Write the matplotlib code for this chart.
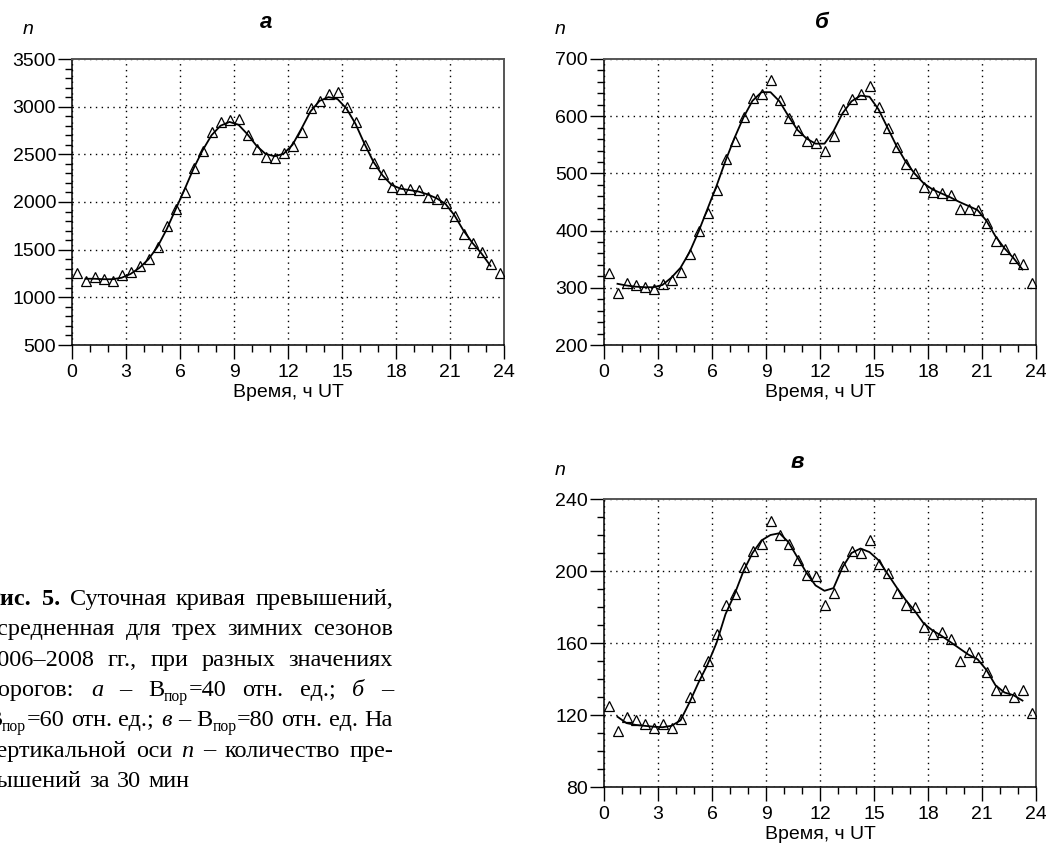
import numpy as np
import matplotlib
matplotlib.use("Agg")
import matplotlib.pyplot as plt
from matplotlib.ticker import MultipleLocator
from matplotlib.transforms import IdentityTransform

W, H = 1046, 846

# середины получасовых интервалов, ч UT
hours = [0.25, 0.75, 1.25, 1.75, 2.25, 2.75, 3.25, 3.75, 4.25, 4.75, 5.25, 5.75,
         6.25, 6.75, 7.25, 7.75, 8.25, 8.75, 9.25, 9.75, 10.25, 10.75, 11.25, 11.75,
         12.25, 12.75, 13.25, 13.75, 14.25, 14.75, 15.25, 15.75, 16.25, 16.75, 17.25, 17.75,
         18.25, 18.75, 19.25, 19.75, 20.25, 20.75, 21.25, 21.75, 22.25, 22.75, 23.25, 23.75]
fit_hours = hours[1:-1]

# а - Bпор=40
n_a = [1260, 1170, 1215, 1190, 1170, 1230, 1262, 1324, 1400, 1533, 1746, 1931,
       2105, 2360, 2534, 2736, 2844, 2865, 2875, 2708, 2551, 2475, 2460, 2517,
       2586, 2732, 2987, 3060, 3130, 3158, 2998, 2837, 2593, 2412, 2293, 2161,
       2140, 2133, 2130, 2057, 2028, 1986, 1854, 1669, 1568, 1471, 1352, 1254]
fit_a = [1195, 1195, 1190, 1190, 1205, 1245, 1310, 1400, 1530, 1710, 1920,
         2130, 2350, 2540, 2700, 2800, 2840, 2810, 2710, 2590, 2505, 2480, 2505,
         2600, 2770, 2950, 3060, 3100, 3080, 2980, 2820, 2610, 2420, 2280, 2180,
         2140, 2125, 2110, 2080, 2040, 1980, 1860, 1700, 1570, 1460, 1330]

# б - Bпор=60
n_b = [325, 291, 308, 305, 301, 298, 307, 314, 328, 359, 400, 430,
       471, 525, 556, 598, 632, 638, 663, 628, 597, 576, 556, 554,
       539, 565, 612, 630, 638, 653, 616, 580, 546, 516, 501, 477,
       467, 465, 463, 438, 438, 436, 414, 382, 367, 352, 342, 308]
fit_b = [307, 304, 302, 301, 301, 305, 318, 335, 362, 398, 438,
         478, 522, 562, 598, 627, 642, 642, 626, 600, 576, 561, 552,
         552, 574, 605, 626, 636, 634, 612, 580, 548, 521, 500, 483,
         472, 465, 458, 450, 443, 436, 417, 390, 369, 352, 332]

# в - Bпор=80
n_c = [125, 111, 119, 117, 115, 113, 115, 113, 118, 130, 142, 150,
       165, 181, 187, 202, 211, 215, 228, 220, 215, 206, 198, 197,
       181, 188, 203, 211, 210, 217, 204, 199, 188, 181, 180, 169,
       165, 166, 162, 150, 155, 152, 144, 134, 134, 130, 134, 121]
fit_c = [119, 115.5, 114.5, 114, 113.5, 113.2, 114, 117, 127, 138, 148,
         160, 176, 187, 200, 210, 217, 220, 221, 216, 207.5, 199, 192,
         189, 190.5, 202, 210, 212.5, 210.5, 206, 198.5, 191, 184, 178, 171,
         167, 164, 160.5, 157, 153.5, 151, 145, 136.5, 132.5, 131, 128]

panels = [
    # left, top, right, bottom (px), data, fit, ymin, ymax, major, minor, title, title x
    (72, 59, 504, 345, n_a, fit_a, 500, 3500, 500, 100, "а", 266),
    (604, 59, 1036, 345, n_b, fit_b, 200, 700, 100, 20, "б", 822),
    (604, 499, 1036, 787, n_c, fit_c, 80, 240, 40, 10, "в", 797),
]

plt.rcParams['font.family'] = ['Liberation Sans', 'DejaVu Sans']
fig = plt.figure(figsize=(W / 100, H / 100), dpi=100)

for l, t, r, b, pts, fit, y0, y1, maj, mnr, title, tx in panels:
    ax = fig.add_axes([l / W, 1 - b / H, (r - l) / W, (b - t) / H])
    ax.plot(fit_hours, fit, color='black', lw=1.3, zorder=3)
    ax.plot(hours, pts, ls='none', marker='^', ms=6.5, mfc='none', mec='black', mew=0.9, zorder=4)
    ax.set_xlim(0, 24)
    ax.set_ylim(y0, y1)
    ax.xaxis.set_major_locator(MultipleLocator(3))
    ax.xaxis.set_minor_locator(MultipleLocator(1))
    ax.yaxis.set_major_locator(MultipleLocator(maj))
    ax.yaxis.set_minor_locator(MultipleLocator(mnr))
    ax.grid(True, which='major', color='black', lw=1.0, ls=(0, (1, 3.2)))
    ax.tick_params(which='major', direction='out', length=10, width=1, labelsize=14)
    ax.tick_params(axis='y', which='major', pad=1.5)
    ax.tick_params(axis='x', which='major', pad=3.5)
    ax.tick_params(which='minor', direction='out', length=5, width=1)
    for side in ['left', 'bottom']:
        ax.spines[side].set_color('black')
        ax.spines[side].set_linewidth(1.1)
    for side in ['top', 'right']:
        ax.spines[side].set_color('#555555')
        ax.spines[side].set_linewidth(1.4)
    ax.set_xlabel("Время, ч UT", fontsize=14, labelpad=2.5)
    fig.text(tx / W, 1 - (t - 37) / H, title, fontsize=16, fontweight='bold', fontstyle='italic',
             ha='center', va='center')
    fig.text((l - 44) / W, 1 - (t - 29) / H, "n", fontsize=14, fontstyle='italic',
             ha='center', va='center')

# подпись к рисунку, выравнивание по ширине
caption = [
    [[("Рис.", 'b')], [("5.", 'b')], [("Суточная", 'n')], [("кривая", 'n')], [("превышений,", 'n')]],
    [[("усредненная", 'n')], [("для", 'n')], [("трех", 'n')], [("зимних", 'n')], [("сезонов", 'n')]],
    [[("2006–2008", 'n')], [("гг.,", 'n')], [("при", 'n')], [("разных", 'n')], [("значениях", 'n')]],
    [[("порогов:", 'n')], [("а", 'i')], [("–", 'n')], [("B", 'n'), ("пор", 's'), ("=40", 'n')],
     [("отн.", 'n')], [("ед.;", 'n')], [("б", 'i')], [("–", 'n')]],
    [[("B", 'n'), ("пор", 's'), ("=60", 'n')], [("отн.", 'n')], [("ед.;", 'n')], [("в", 'i')], [("–", 'n')],
     [("B", 'n'), ("пор", 's'), ("=80", 'n')], [("отн.", 'n')], [("ед.", 'n')], [("На", 'n')]],
    [[("вертикальной", 'n')], [("оси", 'n')], [("n", 'i')], [("–", 'n')], [("количество", 'n')], [("пре-", 'n')]],
    [[("вышений", 'n')], [("за", 'n')], [("30", 'n')], [("мин", 'n')]],
]

cap_size = 17.5
cap_left, cap_right = -14, 393
cap_base0, cap_step = 605, 30.3
renderer = fig.canvas.get_renderer()


def seg_text(s, st):
    kw = dict(family=['Liberation Serif', 'DejaVu Serif'], fontsize=cap_size,
              va='baseline', ha='left', transform=IdentityTransform())
    if st == 'b':
        kw['fontweight'] = 'bold'
    elif st == 'i':
        kw['fontstyle'] = 'italic'
    elif st == 's':
        kw['fontsize'] = cap_size * 0.65
    return fig.text(0, 0, s, **kw)


for i, line in enumerate(caption):
    base = H - (cap_base0 + i * cap_step)
    words = []
    for word in line:
        parts = []
        for s, st in word:
            txt = seg_text(s, st)
            parts.append((txt, txt.get_window_extent(renderer).width, st))
        words.append(parts)
    widths = [sum(p[1] for p in w) for w in words]
    if i < len(caption) - 1:
        gap = (cap_right - cap_left - sum(widths)) / (len(words) - 1)
    else:
        gap = cap_size * 0.3 * 100 / 72
    x = cap_left
    for parts, wd in zip(words, widths):
        xx = x
        for txt, w, st in parts:
            dy = -0.2 * cap_size * 100 / 72 if st == 's' else 0
            txt.set_position((xx, base + dy))
            xx += w
        x += wd + gap

fig.savefig("out.png", dpi=100)
